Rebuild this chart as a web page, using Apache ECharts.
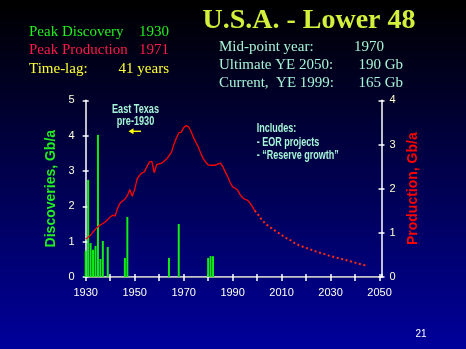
<!DOCTYPE html>
<html><head><meta charset="utf-8">
<script src="https://cdn.jsdelivr.net/npm/echarts@6/dist/echarts.min.js"></script>
<style>html,body{margin:0;padding:0;background:#000;}#c{width:466px;height:349px;}</style>
</head><body><div id="c"></div>
<script>
// Discoveries (Gb/a) by year
const discYears = [1930,1931,1932,1933,1934,1935,1936,1937,1939,1946,1947,1964,1968,1980,1981,1982];
const discValues = [0.74,2.75,0.96,0.77,0.88,4.02,0.51,1.02,0.85,0.54,1.70,0.54,1.50,0.54,0.59,0.59];

// Historical production (Gb/a)
const prodYears = [1930,1931,1932,1933,1934,1935,1936,1937,1938,1939,1940,1941,1942,1943,1944,1945,1946,1947,1948,1949,
  1950,1951,1952,1953,1954,1955,1956,1957,1958,1959,1960,1961,1962,1963,1964,1965,1966,1967,1968,1969,
  1970,1971,1972,1973,1974,1975,1976,1977,1978,1979,1980,1981,1982,1983,1984,1985,1986,1987,1988,1989,
  1990,1991,1992,1993,1994,1995,1996,1997,1998,1999];
const prodValues = [0.86,0.90,0.95,1.02,1.08,1.14,1.18,1.21,1.25,1.30,1.36,1.40,1.38,1.55,1.67,1.72,1.76,1.84,1.98,1.83,
  1.98,2.22,2.30,2.36,2.38,2.50,2.60,2.62,2.36,2.55,2.56,2.58,2.62,2.67,2.74,2.82,3.00,3.14,3.26,3.28,
  3.38,3.43,3.40,3.30,3.16,3.05,2.94,2.80,2.68,2.60,2.54,2.53,2.53,2.53,2.56,2.58,2.50,2.38,2.27,2.14,
  2.04,2.01,1.97,1.87,1.80,1.76,1.74,1.68,1.60,1.50];

// Forecast production (Gb/a)
const fcYears = [1999,2000,2001,2002,2003,2004,2005,2006,2007,2008,2009,2010,2011,2012,2013,2014,2015,2016,2017,2018,2019,
  2020,2021,2022,2023,2024,2025,2026,2027,2028,2029,2030,2031,2032,2033,2034,2035,2036,2037,2038,2039,
  2040,2041,2042,2043,2044,2045];
const fcValues = [1.50,1.45,1.36,1.29,1.23,1.18,1.14,1.10,1.06,1.02,0.99,0.95,0.92,0.88,0.85,0.82,0.78,0.75,0.72,0.70,0.68,
  0.66,0.64,0.62,0.60,0.58,0.56,0.545,0.53,0.51,0.49,0.475,0.46,0.445,0.43,0.415,0.40,0.385,0.37,0.355,0.34,
  0.325,0.31,0.295,0.28,0.265,0.25];

const xTicks = {min:1930, max:2050.8, interval:10};
const xLabelYears = ['1930','1950','1970','1990','2010','2030','2050'];
const leftTicks = {min:0, max:5, interval:1};
const rightTicks = {min:0, max:4, interval:1};

const zip = (a,b) => a.map((v,i)=>[v,b[i]]);

const chart = echarts.init(document.getElementById('c'), null, {renderer:'canvas'});
const serif = '"Liberation Serif", "DejaVu Serif", serif';
const sans = '"Liberation Sans", Arial, sans-serif';
const mint = '#a6f5d6';

function txt(x, y, text, color, font, align, sx) {
  return {type:'text', x:x, y:y, scaleX:sx||1, silent:true,
    style:{text:text, fill:color, font:font, align:align||'left', verticalAlign:'middle'}};
}

const white = '#ffffff';
const option = {
  animation:false,
  backgroundColor:{type:'linear', x:0, y:0, x2:0, y2:1,
    colorStops:[{offset:0,color:'#000000'},{offset:0.04,color:'#000004'},{offset:1,color:'#00009c'}]},
  grid:{left:85.7, right:84.5, top:100.3, bottom:72},
  xAxis:[
    {type:'value', position:'bottom', min:xTicks.min, max:xTicks.max, interval:xTicks.interval,
      axisLine:{lineStyle:{color:white, width:1.5}},
      axisTick:{length:4, lineStyle:{color:white, width:1.5}},
      axisLabel:{color:'#ffffee', fontSize:11, fontFamily:sans, margin:10, showMaxLabel:false,
        formatter:v => (xLabelYears.indexOf(String(v)) >= 0 ? String(v) : '')},
      splitLine:{show:false}},
    {type:'value', position:'bottom', min:xTicks.min, max:xTicks.max, interval:xTicks.interval,
      axisLine:{show:false},
      axisTick:{inside:true, length:3, lineStyle:{color:white, width:1.5}},
      axisLabel:{show:false}, splitLine:{show:false}},
    {type:'value', position:'top', min:xTicks.min, max:xTicks.max, interval:xTicks.interval,
      axisLine:{lineStyle:{color:'#9a9a9a', width:1}},
      axisTick:{show:false}, axisLabel:{show:false}, splitLine:{show:false}}
  ],
  yAxis:[
    {type:'value', position:'left', min:leftTicks.min, max:leftTicks.max, interval:leftTicks.interval,
      name:'Discoveries, Gb/a', nameLocation:'middle', nameRotate:90, nameGap:23,
      nameTextStyle:{color:'#22ee22', fontSize:14, fontWeight:'bold', fontFamily:sans},
      axisLine:{show:true, lineStyle:{color:white, width:1.5}},
      axisTick:{show:true, length:3, lineStyle:{color:white, width:1.5}},
      axisLabel:{color:'#ffffdd', fontSize:11, fontFamily:sans, margin:11},
      splitLine:{show:false}},
    {type:'value', position:'right', min:rightTicks.min, max:rightTicks.max, interval:rightTicks.interval,
      name:'Production, Gb/a', nameLocation:'middle', nameRotate:90, nameGap:21,
      nameTextStyle:{color:'#ff0000', fontSize:14, fontWeight:'bold', fontFamily:sans},
      axisLine:{show:true, lineStyle:{color:white, width:1.5}},
      axisTick:{show:true, length:3, lineStyle:{color:white, width:1.5}},
      axisLabel:{color:'#ffffcc', fontSize:11, fontFamily:sans, margin:8},
      splitLine:{show:false}},
    {type:'value', position:'left', min:leftTicks.min, max:leftTicks.max, interval:leftTicks.interval,
      axisLine:{show:false}, axisTick:{show:true, inside:true, length:3, lineStyle:{color:white, width:1.5}},
      axisLabel:{show:false}, splitLine:{show:false}},
    {type:'value', position:'right', min:rightTicks.min, max:rightTicks.max, interval:rightTicks.interval,
      axisLine:{show:false}, axisTick:{show:true, inside:true, length:3, lineStyle:{color:white, width:1.5}},
      axisLabel:{show:false}, splitLine:{show:false}}
  ],
  series:[
    {type:'bar', name:'Discoveries', xAxisIndex:0, yAxisIndex:0, barWidth:2,
      itemStyle:{color:'#11ee11'}, data:zip(discYears, discValues)},
    {type:'line', name:'Production', xAxisIndex:0, yAxisIndex:1, showSymbol:false, symbol:'none',
      lineStyle:{color:'#ff0000', width:1.3}, data:zip(prodYears, prodValues)},
    {type:'line', name:'Forecast', xAxisIndex:0, yAxisIndex:1, showSymbol:false, symbol:'none',
      lineStyle:{color:'#ff2a10', width:2, type:[2,2.6]}, data:zip(fcYears, fcValues)}
  ],
  graphic:[
    txt(29, 32, 'Peak Discovery', '#22ee22', '15px ' + serif),
    txt(169, 32, '1930', '#22ee22', '15px ' + serif, 'right'),
    txt(29, 50, 'Peak Production', '#ff1a4a', '15px ' + serif),
    txt(169, 50, '1971', '#ff1a4a', '15px ' + serif, 'right'),
    txt(29, 69, 'Time-lag:', '#ffff33', '15px ' + serif),
    txt(169, 69, '41 years', '#ffff33', '15px ' + serif, 'right'),
    txt(309, 21, 'U.S.A. - Lower 48', '#d2f03c', 'bold 28px ' + serif, 'center'),
    txt(219, 47, 'Mid-point year:', mint, '15px ' + serif),
    txt(354, 47, '1970', mint, '15px ' + serif),
    txt(219, 65, 'Ultimate YE 2050:', mint, '15px ' + serif),
    txt(403, 65, '190 Gb', mint, '15px ' + serif, 'right'),
    txt(219, 83, 'Current,  YE 1999:', mint, '15px ' + serif),
    txt(403, 83, '165 Gb', mint, '15px ' + serif, 'right'),
    txt(135.5, 110, 'East Texas', mint, 'bold 12px ' + sans, 'center', 0.76),
    txt(135.5, 121.5, 'pre-1930', mint, 'bold 12px ' + sans, 'center', 0.76),
    {type:'line', silent:true, shape:{x1:132, y1:131.3, x2:141, y2:131.3}, style:{stroke:'#ffff00', lineWidth:1.5}},
    {type:'polygon', silent:true, shape:{points:[[128.5,131.3],[133.5,128.3],[133.5,134.3]]}, style:{fill:'#ffff00'}},
    txt(256.7, 129, 'Includes:', mint, 'bold 12px ' + sans, 'left', 0.75),
    txt(256.7, 143, '- EOR projects', mint, 'bold 12px ' + sans, 'left', 0.75),
    txt(256.7, 155.5, '- \u201cReserve growth\u201d', mint, 'bold 12px ' + sans, 'left', 0.75),
    txt(421, 334, '21', '#ffffff', '10px ' + sans, 'center')
  ]
};
chart.setOption(option);
</script>
</body></html>
